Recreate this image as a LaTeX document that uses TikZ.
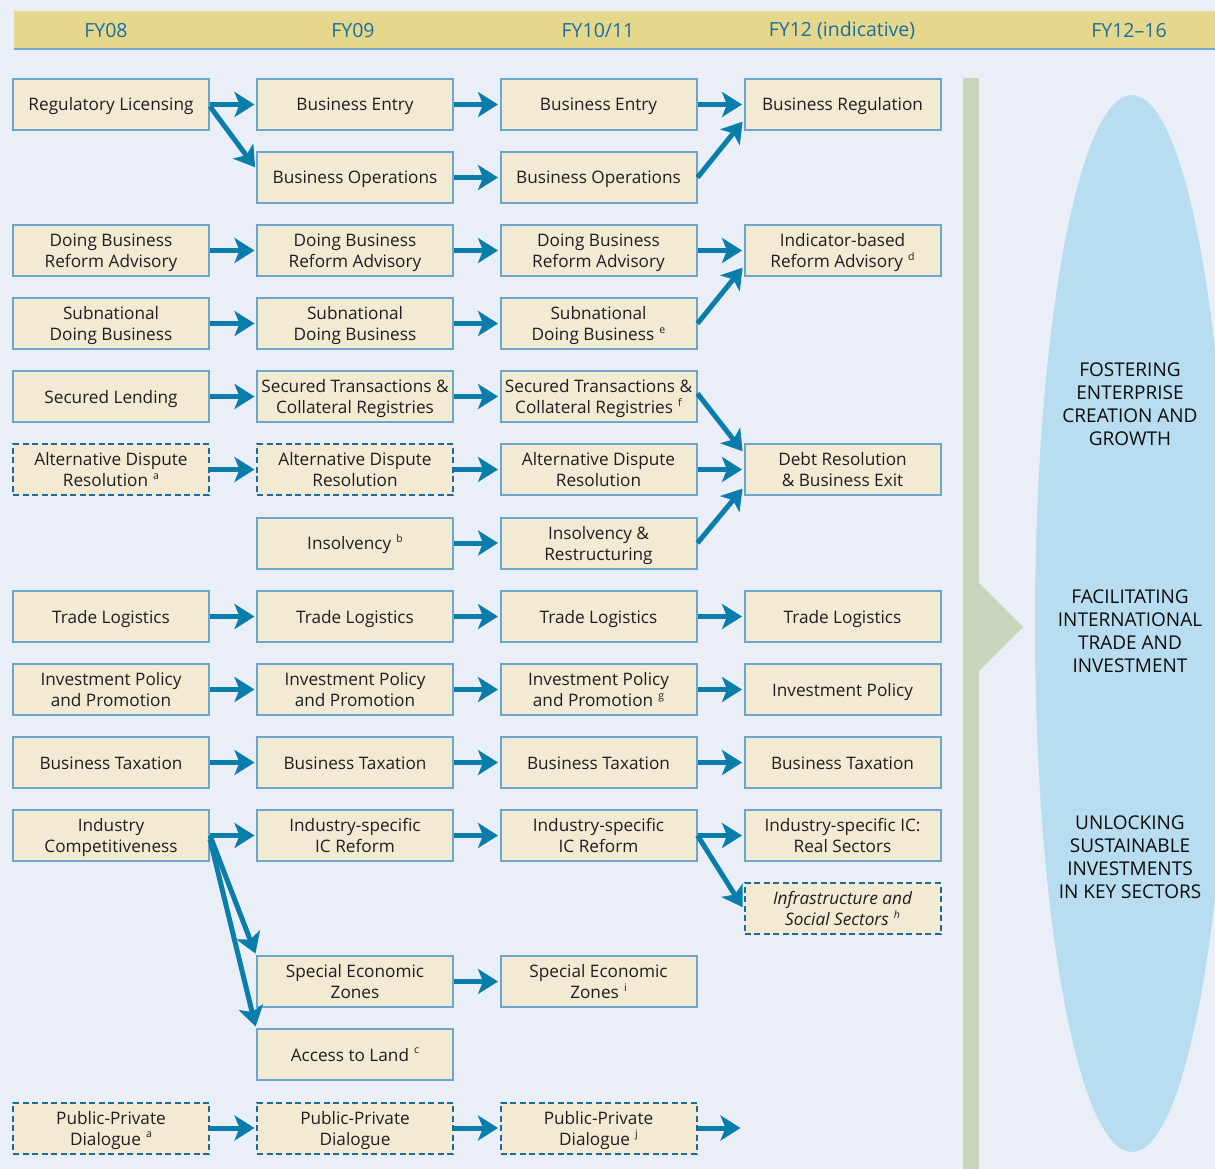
\documentclass[tikz,border=0pt]{standalone}
\usepackage{fontspec}
\setmainfont{Open Sans}
\usetikzlibrary{arrows.meta}
\definecolor{bgc}{HTML}{EAEFF7}
\definecolor{hdrc}{HTML}{E5D78C}
\definecolor{hdrline}{HTML}{6FA7CF}
\definecolor{hdrtext}{HTML}{1B6E9F}
\definecolor{boxfill}{HTML}{F2EAD3}
\definecolor{boxline}{HTML}{6CA6CC}
\definecolor{dashline}{HTML}{1F6B98}
\definecolor{arrc}{HTML}{0B7DAB}
\definecolor{greenc}{HTML}{C9D6BD}
\definecolor{ellc}{HTML}{B8DCF0}
\newcommand\fnmark[1]{\hspace{0.3em}\raisebox{0.42em}{\fontsize{10.5}{10.5}\selectfont #1}}
\newcommand\hstrut{\rule{0pt}{18pt}}
\begin{document}
\begin{tikzpicture}[x=1pt,y=-1pt,
  box/.style={draw=boxline, fill=boxfill, line width=2pt, minimum width=196pt, minimum height=51pt,
    inner sep=0pt, align=center, font=\fontsize{17.2}{21}\selectfont, text=black!88,
    execute at begin node={\rule{0pt}{18pt}}, execute at end node={\rule[-5pt]{0pt}{5pt}}},
  dbox/.style={box, draw=dashline, dash pattern=on 6pt off 3.5pt},
  hdr/.style={text=hdrtext, font=\fontsize{19.5}{22}\selectfont},
  goal/.style={align=center, font=\fontsize{19}{23}\selectfont, text=black!95},
  arr/.style={draw=arrc, line width=5pt, -{Stealth[length=20pt,width=25pt,inset=5pt]}, shorten >=1.5pt}]
\useasboundingbox (0,0) rectangle (1215,1169);
\fill[bgc] (0,0) rectangle (1215,1169);
% header
\fill[hdrc] (14,11) rectangle (1215,49);
\draw[hdrline, line width=2pt] (14,49) -- (1215,49);
\node[hdr] (h1) at (106,31) {FY08};
\node[hdr] (h2) at (353,31) {FY09};
\node[hdr] (h3) at (598,31) {FY10/11};
\node[hdr] (h4) at (842,31) {FY12 (indicative)};
\node[hdr] (h5) at (1129,31) {FY12–16};
% right side
\begin{scope}
\clip (0,0) rectangle (1215,1169);
\fill[ellc] (1132,623.5) ellipse [x radius=97pt, y radius=528.5pt];
\end{scope}
\fill[greenc] (963,78) rectangle (979,1169);
\fill[greenc] (978,582) -- (1023,627) -- (978,672) -- cycle;
\node[goal] (g1) at (1130,404) {FOSTERING\\ENTERPRISE\\CREATION AND\\GROWTH};
\node[goal] (g2) at (1130,631) {FACILITATING\\INTERNATIONAL\\TRADE AND\\INVESTMENT};
\node[goal] (g3) at (1130,857) {UNLOCKING\\SUSTAINABLE\\INVESTMENTS\\IN KEY SECTORS};
% boxes row 1-2
\node[box] (rl) at (111,104.5) {Regulatory Licensing};
\node[box] (be2) at (355,104.5) {Business Entry};
\node[box] (be3) at (598.5,104.5) {Business Entry};
\node[box] (br4) at (842.5,104.5) {Business Regulation};
\node[box] (bo2) at (355,177.5) {Business Operations};
\node[box] (bo3) at (598.5,177.5) {Business Operations};
% row 3
\node[box] (db1) at (111,250.5) {\hstrut Doing Business\\Reform Advisory};
\node[box] (db2) at (355,250.5) {\hstrut Doing Business\\Reform Advisory};
\node[box] (db3) at (598.5,250.5) {\hstrut Doing Business\\Reform Advisory};
\node[box] (ib4) at (842.5,250.5) {\hstrut Indicator-based\\Reform Advisory\fnmark{d}};
% row 4
\node[box] (sd1) at (111,323.5) {\hstrut Subnational\\Doing Business};
\node[box] (sd2) at (355,323.5) {\hstrut Subnational\\Doing Business};
\node[box] (sd3) at (598.5,323.5) {\hstrut Subnational\\Doing Business\fnmark{e}};
% row 5
\node[box] (sl1) at (111,396.5) {Secured Lending};
\node[box] (st2) at (355,396.5) {\hstrut Secured Transactions \&\\Collateral Registries};
\node[box] (st3) at (598.5,396.5) {\hstrut Secured Transactions \&\\Collateral Registries\fnmark{f}};
% row 6
\node[dbox] (ad1) at (111,469.5) {\hstrut Alternative Dispute\\Resolution\fnmark{a}};
\node[dbox] (ad2) at (355,469.5) {\hstrut Alternative Dispute\\Resolution};
\node[box] (ad3) at (598.5,469.5) {\hstrut Alternative Dispute\\Resolution};
\node[box] (dr4) at (842.5,469.5) {\hstrut Debt Resolution\\\& Business Exit};
% row 7
\node[box] (in2) at (355,543) {Insolvency\fnmark{b}};
\node[box] (in3) at (598.5,543) {\hstrut Insolvency \&\\Restructuring};
% row 8
\node[box] (tl1) at (111,616.5) {Trade Logistics};
\node[box] (tl2) at (355,616.5) {Trade Logistics};
\node[box] (tl3) at (598.5,616.5) {Trade Logistics};
\node[box] (tl4) at (842.5,616.5) {Trade Logistics};
% row 9
\node[box] (ip1) at (111,689.5) {\hstrut Investment Policy\\and Promotion};
\node[box] (ip2) at (355,689.5) {\hstrut Investment Policy\\and Promotion};
\node[box] (ip3) at (598.5,689.5) {\hstrut Investment Policy\\and Promotion\fnmark{g}};
\node[box] (ip4) at (842.5,689.5) {Investment Policy};
% row 10
\node[box] (bt1) at (111,762.5) {Business Taxation};
\node[box] (bt2) at (355,762.5) {Business Taxation};
\node[box] (bt3) at (598.5,762.5) {Business Taxation};
\node[box] (bt4) at (842.5,762.5) {Business Taxation};
% row 11-12
\node[box] (ic1) at (111,835.5) {\hstrut Industry\\Competitiveness};
\node[box] (is2) at (355,835.5) {\hstrut Industry-specific\\IC Reform};
\node[box] (is3) at (598.5,835.5) {\hstrut Industry-specific\\IC Reform};
\node[box] (is4) at (842.5,835.5) {\hstrut Industry-specific IC:\\Real Sectors};
\node[dbox, font=\fontsize{17.2}{21}\selectfont\itshape] (inf4) at (842.5,908.5) {\hstrut Infrastructure and\\Social Sectors\fnmark{h}};
% row 13-14
\node[box] (sez2) at (355,981.5) {\hstrut Special Economic\\Zones};
\node[box] (sez3) at (598.5,981.5) {\hstrut Special Economic\\Zones\fnmark{i}};
\node[box] (atl2) at (355,1054.5) {Access to Land\fnmark{c}};
% row 15
\node[dbox] (pp1) at (111,1128) {\hstrut Public-Private\\Dialogue\fnmark{a}};
\node[dbox] (pp2) at (355,1128) {\hstrut Public-Private\\Dialogue};
\node[dbox] (pp3) at (598.5,1128) {\hstrut Public-Private\\Dialogue\fnmark{j}};
\coordinate (ppend) at (742,1128);
% arrows
\draw[arr] (rl.east) -- (be2.west);
\draw[arr] ([yshift=-2pt]rl.east) -- ([yshift=9pt]bo2.west);
\draw[arr] (be2.east) -- (be3.west);
\draw[arr] (be3.east) -- (br4.west);
\draw[arr] (bo2.east) -- (bo3.west);
\draw[arr] (bo3.east) -- ([yshift=-16pt]br4.west);
\draw[arr] (db1.east) -- (db2.west);
\draw[arr] (db2.east) -- (db3.west);
\draw[arr] (db3.east) -- (ib4.west);
\draw[arr] (sd1.east) -- (sd2.west);
\draw[arr] (sd2.east) -- (sd3.west);
\draw[arr] (sd3.east) -- ([yshift=-16pt]ib4.west);
\draw[arr] (sl1.east) -- (st2.west);
\draw[arr] (st2.east) -- (st3.west);
\draw[arr] ([yshift=3pt]st3.east) -- ([yshift=17pt]dr4.west);
\draw[arr] (ad1.east) -- (ad2.west);
\draw[arr] (ad2.east) -- (ad3.west);
\draw[arr] (ad3.east) -- (dr4.west);
\draw[arr] (in2.east) -- (in3.west);
\draw[arr] (in3.east) -- ([yshift=-18pt]dr4.west);
\draw[arr] (tl1.east) -- (tl2.west);
\draw[arr] (tl2.east) -- (tl3.west);
\draw[arr] (tl3.east) -- (tl4.west);
\draw[arr] (ip1.east) -- (ip2.west);
\draw[arr] (ip2.east) -- (ip3.west);
\draw[arr] (ip3.east) -- (ip4.west);
\draw[arr] (bt1.east) -- (bt2.west);
\draw[arr] (bt2.east) -- (bt3.west);
\draw[arr] (bt3.east) -- (bt4.west);
\draw[arr] (ic1.east) -- (is2.west);
\draw[arr] (is2.east) -- (is3.west);
\draw[arr] (is3.east) -- (is4.west);
\draw[arr] (is3.east) -- (inf4.west);
\draw[arr] (ic1.east) -- (sez2.north west);
\draw[arr] ([yshift=-4pt]ic1.east) -- (atl2.north west);
\draw[arr] (sez2.east) -- (sez3.west);
\draw[arr] (pp1.east) -- (pp2.west);
\draw[arr] (pp2.east) -- (pp3.west);
\draw[arr] (pp3.east) -- (ppend);
\end{tikzpicture}
\end{document}
